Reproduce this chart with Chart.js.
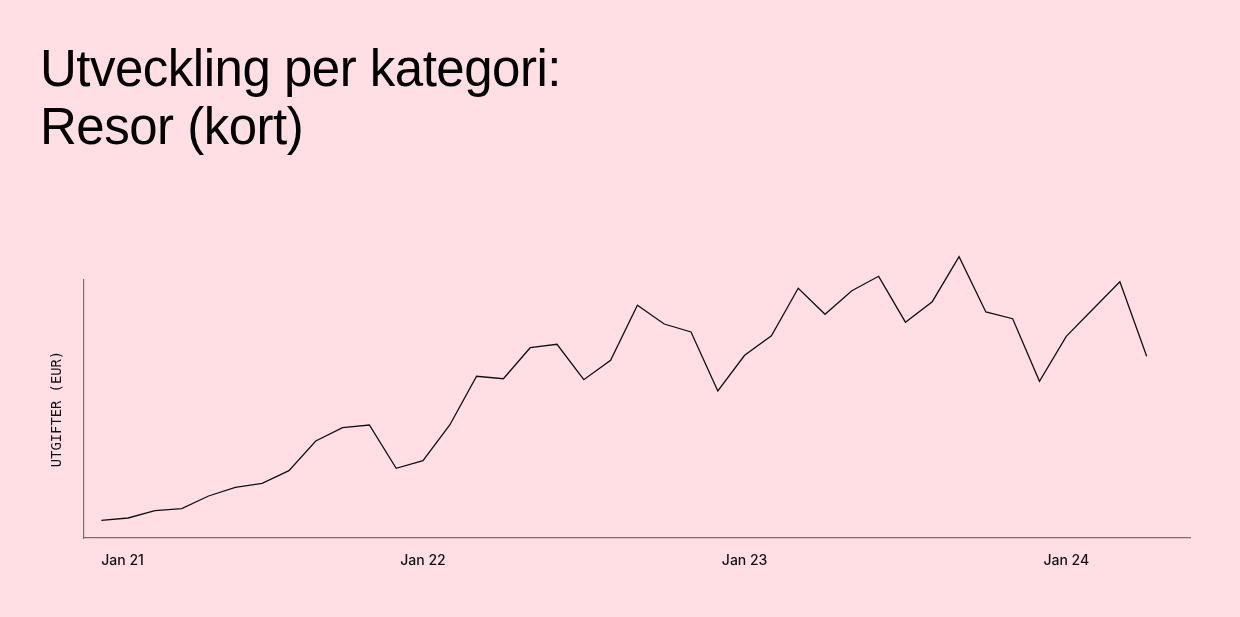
<!DOCTYPE html>
<html lang="sv">
<head>
    <meta charset="UTF-8">
    <title>Utveckling per kategori: Resor (kort)</title>
    <script src="https://cdn.jsdelivr.net/npm/chart.js"></script>
    <style>
        html, body {
            margin: 0;
            padding: 0;
            width: 1240px;
            height: 617px;
            overflow: hidden;
            background-color: #ffdfe3;
        }
        h1 {
            position: absolute;
            left: 40px;
            top: 40px;
            margin: 0;
            font-family: 'Liberation Sans', Arial, sans-serif;
            font-weight: 400;
            font-size: 51px;
            line-height: 58px;
            letter-spacing: -0.5px;
            color: #000;
        }
        .chart-container {
            position: absolute;
            left: 0;
            top: 0;
            width: 1240px;
            height: 617px;
        }
    </style>
</head>
<body>
    <h1>Utveckling per kategori:<br>Resor (kort)</h1>
    <div class="chart-container">
        <canvas id="trendChart"></canvas>
    </div>

    <script>
        // monthly card spend on travel, Jan 21 - Apr 24
        const months = [
            'Jan 21', 'Feb 21', 'Mar 21', 'Apr 21', 'May 21', 'Jun 21', 'Jul 21', 'Aug 21', 'Sep 21', 'Oct 21', 'Nov 21', 'Dec 21',
            'Jan 22', 'Feb 22', 'Mar 22', 'Apr 22', 'May 22', 'Jun 22', 'Jul 22', 'Aug 22', 'Sep 22', 'Oct 22', 'Nov 22', 'Dec 22',
            'Jan 23', 'Feb 23', 'Mar 23', 'Apr 23', 'May 23', 'Jun 23', 'Jul 23', 'Aug 23', 'Sep 23', 'Oct 23', 'Nov 23', 'Dec 23',
            'Jan 24', 'Feb 24', 'Mar 24', 'Apr 24'
        ];
        const expenses = [
            177, 200, 273, 293, 420, 507, 547, 673, 970, 1103, 1130, 697,
            773, 1130, 1617, 1593, 1903, 1937, 1583, 1777, 2327, 2140, 2060, 1470,
            1827, 2023, 2497, 2237, 2473, 2617, 2158, 2363, 2813, 2260, 2193, 1567,
            2017, 2290, 2563, 1817
        ];
        const tickLabels = ['Jan 21', 'Jan 22', 'Jan 23', 'Jan 24'];

        const tickIndex = tickLabels.map(l => months.indexOf(l));
        const xMin = -0.646;
        const xMax = 40.616;

        const ctx = document.getElementById('trendChart').getContext('2d');
        new Chart(ctx, {
            type: 'line',
            data: {
                datasets: [{
                    label: 'Utgifter (EUR)',
                    data: expenses.map((v, i) => ({ x: i, y: v })),
                    borderColor: '#111',
                    borderWidth: 1.3,
                    pointRadius: 0,
                    tension: 0,
                    fill: false,
                    clip: false
                }]
            },
            options: {
                responsive: true,
                maintainAspectRatio: false,
                animation: false,
                layout: {
                    padding: { top: 280, right: 50, bottom: 0, left: 0 }
                },
                plugins: {
                    legend: { display: false },
                    tooltip: { enabled: false }
                },
                scales: {
                    x: {
                        type: 'linear',
                        min: xMin,
                        max: xMax,
                        grid: { display: false, drawTicks: false },
                        border: { display: true, color: '#7b6e71', width: 1.2 },
                        afterBuildTicks: scale => {
                            scale.ticks = tickIndex.map(v => ({ value: v })).concat([{ value: xMax }]);
                        },
                        afterFit: scale => { scale.height = 79; },
                        ticks: {
                            autoSkip: false,
                            maxRotation: 0,
                            align: 'inner',
                            padding: 14,
                            color: '#111',
                            font: { family: 'Inter', size: 14, weight: 500 },
                            callback: value => {
                                const k = tickIndex.indexOf(value);
                                return k >= 0 ? tickLabels[k] : '';
                            }
                        }
                    },
                    y: {
                        min: 0,
                        max: 2580,
                        grid: { display: false, drawTicks: false },
                        border: { display: true, color: '#7b6e71', width: 1.2 },
                        ticks: { display: false },
                        afterFit: scale => { scale.width = 84; },
                        title: {
                            display: true,
                            text: 'UTGIFTER (EUR)',
                            color: '#111',
                            padding: { top: 49, bottom: 0 },
                            font: { family: 'DejaVu Sans Mono', size: 13.8 }
                        }
                    }
                }
            }
        });
    </script>
</body>
</html>
